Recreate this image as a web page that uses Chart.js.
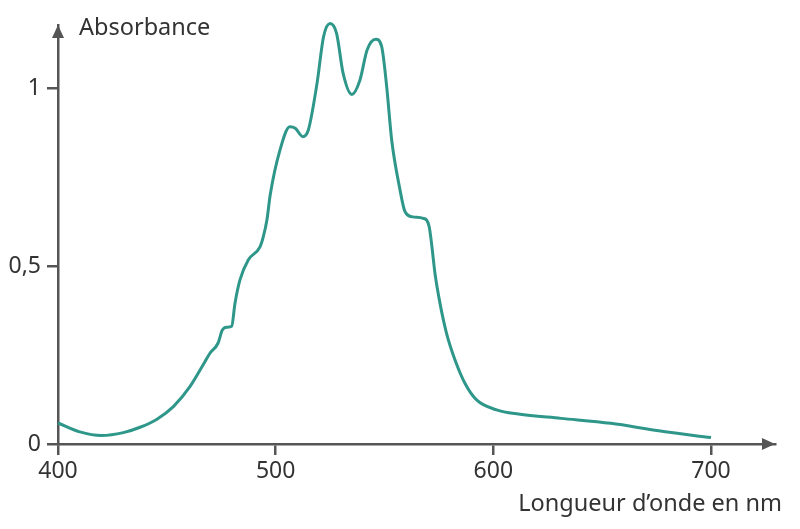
<!DOCTYPE html>
<html>
<head>
<meta charset="utf-8">
<script src="https://cdn.jsdelivr.net/npm/chart.js@4"></script>
<style>
  html, body { margin: 0; padding: 0; background: #fff; }
  #wrap { width: 800px; height: 529px; }
</style>
</head>
<body>
<div id="wrap"><canvas id="spectre"></canvas></div>
<script>
// longueurs d'onde (nm) et absorbance
const wavelengths = [400, 410, 420, 430, 437.7, 445.3, 453, 460.6, 467.5, 469.8, 473.5, 475.5, 477.5, 479.8, 481.3, 483.6, 487.4, 492.8, 494.3, 496, 497.5, 502, 506.5, 509, 512.5, 515, 519, 522, 525, 528, 531, 535, 538.7, 542, 546, 548.7, 551, 553.3, 557, 559.4, 563, 567.8, 570.5, 571.6, 573.2, 575.5, 578.5, 582.4, 587, 592.3, 601.5, 611.5, 631, 654, 676, 700];
const absorbance = [0.059, 0.034, 0.024, 0.032, 0.047, 0.069, 0.105, 0.161, 0.231, 0.255, 0.283, 0.32, 0.328, 0.331, 0.395, 0.461, 0.517, 0.554, 0.582, 0.63, 0.70, 0.826, 0.891, 0.887, 0.863, 0.882, 1.013, 1.144, 1.181, 1.153, 1.041, 0.982, 1.022, 1.107, 1.137, 1.116, 1.004, 0.854, 0.718, 0.653, 0.638, 0.634, 0.611, 0.564, 0.479, 0.395, 0.311, 0.236, 0.170, 0.124, 0.096, 0.084, 0.072, 0.058, 0.037, 0.018];
const xTicks = [400, 500, 600, 700];
const yTicks = [0, 0.5, 1];

const axisColor = "#555555";
const textColor = "#333333";
const fontFamily = "'Noto Sans', 'Open Sans', sans-serif";

const arrowsAndTitles = {
  id: "arrowsAndTitles",
  afterDraw(chart) {
    const ctx = chart.ctx;
    const a = chart.chartArea;
    ctx.save();
    ctx.fillStyle = axisColor;
    // flèche axe x
    ctx.beginPath();
    ctx.moveTo(a.right, a.bottom);
    ctx.lineTo(a.right - 13, a.bottom - 6);
    ctx.lineTo(a.right - 13, a.bottom + 6);
    ctx.closePath();
    ctx.fill();
    // flèche axe y
    ctx.beginPath();
    ctx.moveTo(a.left, a.top);
    ctx.lineTo(a.left - 6, a.top + 13);
    ctx.lineTo(a.left + 6, a.top + 13);
    ctx.closePath();
    ctx.fill();

    ctx.fillStyle = textColor;
    ctx.font = "23.5px " + fontFamily;
    ctx.textBaseline = "middle";
    ctx.textAlign = "left";
    ctx.fillText("Absorbance", a.left + 21, 28);
    ctx.textAlign = "right";
    ctx.fillText("Longueur d\u2019onde en nm", 782, 504);
    ctx.restore();
  }
};

new Chart(document.getElementById("spectre"), {
  type: "line",
  data: {
    datasets: [
      {
        data: wavelengths.map((w, i) => ({ x: w, y: absorbance[i] })),
        borderColor: "#2e978a",
        borderWidth: 3,
        pointRadius: 0,
        fill: false,
        cubicInterpolationMode: "monotone",
        clip: false,
      },
    ],
  },
  options: {
    responsive: true,
    maintainAspectRatio: false,
    animation: false,
    layout: { padding: { top: 25, right: 25, left: 0, bottom: 0 } },
    plugins: {
      legend: { display: false },
      tooltip: { enabled: false },
    },
    scales: {
      x: {
        type: "linear",
        min: 400,
        max: 729.4,
        afterBuildTicks: (scale) => {
          scale.ticks = xTicks.map((v) => ({ value: v }));
        },
        afterFit: (scale) => {
          scale.height = 85;
        },
        border: { display: true, color: axisColor, width: 2.5 },
        grid: {
          drawOnChartArea: false,
          drawTicks: true,
          tickLength: 11,
          color: axisColor,
          lineWidth: 2.5,
        },
        ticks: {
          color: textColor,
          font: { family: fontFamily, size: 23 },
          padding: 3,
          maxRotation: 0,
        },
      },
      y: {
        min: 0,
        max: 1.177,
        afterBuildTicks: (scale) => {
          scale.ticks = yTicks.map((v) => ({ value: v }));
        },
        afterFit: (scale) => {
          scale.width = 58;
        },
        border: { display: true, color: axisColor, width: 2.5 },
        grid: {
          drawOnChartArea: false,
          drawTicks: true,
          tickLength: 11,
          color: axisColor,
          lineWidth: 2.5,
        },
        ticks: {
          color: textColor,
          font: { family: fontFamily, size: 23 },
          padding: 6,
          callback: (v) => String(v).replace(".", ","),
        },
      },
    },
  },
  plugins: [arrowsAndTitles],
});
</script>
</body>
</html>
